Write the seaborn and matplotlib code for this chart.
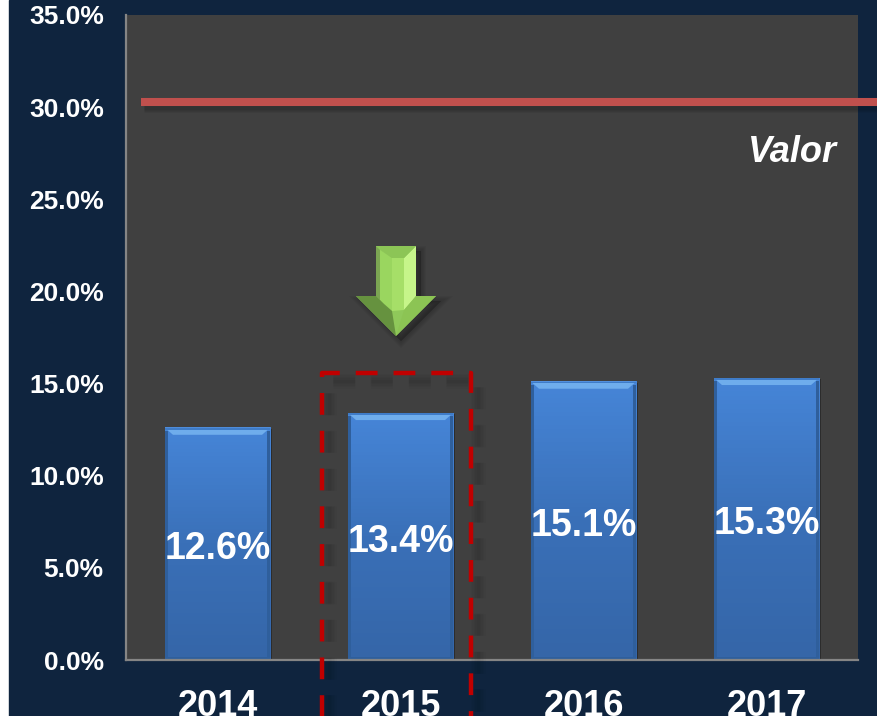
import numpy as np
import matplotlib
matplotlib.use('Agg')
import matplotlib.pyplot as plt
import matplotlib.patheffects as pe
from matplotlib.patches import Polygon, Rectangle
from matplotlib.transforms import Affine2D, blended_transform_factory, ScaledTranslation
import pandas as pd
import seaborn as sns

years = ['2014', '2015', '2016', '2017']
values = [12.6, 13.4, 15.1, 15.3]
value_labels = ['12.6%', '13.4%', '15.1%', '15.3%']
reference_value = 30.3
reference_name = 'Valor'
y_ticks = [0, 5, 10, 15, 20, 25, 30, 35]
y_tick_labels = ['0.0%', '5.0%', '10.0%', '15.0%', '20.0%', '25.0%', '30.0%', '35.0%']

NAVY = '#0f243e'
PLOT_BG = '#404040'
AXIS_GREY = '#858585'
W, H = 877, 716


def soft_line_shadow(dx, dy, width, alpha, steps=5, grow=2.2):
    # a few wide transparent strokes stand in for a blurred shadow
    return [pe.SimpleLineShadow(offset=(dx, dy), alpha=alpha, shadow_color='black', linewidth=width + k * grow)
            for k in range(steps)]


sns.set_theme(style='white')
plt.rcParams['font.family'] = ['Liberation Sans', 'DejaVu Sans']

fig = plt.figure(figsize=(W / 100, H / 100), dpi=100, facecolor='white')
# shapes that sit on top of the chart are placed in reference pixels
px = Affine2D().scale(1 / W, -1 / H).translate(0, 1) + fig.transFigure
fig.patches.append(Rectangle((9, 0), W - 9, H, transform=px, color=NAVY, zorder=-5))

ax = fig.add_axes([126 / W, (H - 660) / H, 732 / W, 645 / H], facecolor=PLOT_BG)

df = pd.DataFrame({'year': years, 'value': values})
sns.barplot(data=df, x='year', y='value', color='#3f78c4', width=0.574, saturation=1, linewidth=0, ax=ax)

ax.set_ylim(0, 35)
ax.set_xlim(-0.5, 3.5)
ax.set_xlabel('')
ax.set_ylabel('')
ax.set_yticks(y_ticks)
ax.set_yticklabels(y_tick_labels, fontsize=19, fontweight='bold', color='white')
ax.tick_params(axis='y', length=0, pad=16)
ax.tick_params(axis='x', length=0, pad=21)
for lab in ax.get_xticklabels():
    lab.set_fontsize(26)
    lab.set_fontweight('bold')
    lab.set_color('white')
for side in ['top', 'right']:
    ax.spines[side].set_visible(False)
for side in ['left', 'bottom']:
    ax.spines[side].set_color(AXIS_GREY)
    ax.spines[side].set_linewidth(1.6)

# gradient and bevel on every bar
grad = np.linspace(0, 1, 64).reshape(-1, 1)
cmap = matplotlib.colors.LinearSegmentedColormap.from_list('bar', ['#4685d8', '#3a70b8', '#3566a8'])
for bar in ax.patches:
    x0, y0, w, h = bar.get_x(), bar.get_y(), bar.get_width(), bar.get_height()
    bar.set_path_effects([pe.SimplePatchShadow(offset=(1.5, -1), alpha=0.3, shadow_rgbFace='black'), pe.Normal()])
    bar.set_zorder(2)
    ax.imshow(grad, extent=(x0, x0 + w, y0, y0 + h), cmap=cmap, aspect='auto', zorder=2.1)
    dx = 4 / 183
    dy = 7 / 18.43
    ax.add_patch(Polygon([(x0, y0 + h), (x0 + w, y0 + h), (x0 + w - 2 * dx, y0 + h - dy), (x0 + 2 * dx, y0 + h - dy)],
                         color='#6fadec', lw=0, zorder=2.2))
    ax.add_patch(Rectangle((x0, y0 + h - dy * 0.25), w, dy * 0.25, color='#3f7cc8', lw=0, zorder=2.3))
    ax.add_patch(Rectangle((x0, y0), dx * 0.75, h - dy * 0.4, color='#2f5f9c', lw=0, zorder=2.2))
    ax.add_patch(Rectangle((x0 + w - dx * 0.75, y0), dx * 0.75, h - dy * 0.4, color='#2f5f9c', lw=0, zorder=2.2))
    ax.add_patch(Rectangle((x0, y0), w, dy * 0.4, color='#2f5f9c', lw=0, zorder=2.2))
ax.set_xlim(-0.5, 3.5)
ax.set_ylim(0, 35)

labels = ax.bar_label(ax.containers[0], labels=value_labels, label_type='center',
                      fontsize=27, fontweight='bold', color='white')
for t in labels:
    t.set_zorder(5)
    t.xyann = (0, -3.6)

# reference line runs past the plot area up to the edge of the picture
line_tf = blended_transform_factory(ax.transAxes, ax.transData)
ax.plot([15 / 732, 751 / 732], [reference_value, reference_value], transform=line_tf, color='#c0504d',
        lw=5.8, solid_capstyle='butt', clip_on=False, zorder=3,
        path_effects=soft_line_shadow(2, -3, 5, 0.05, steps=4, grow=1.4) + [pe.Normal()])
ax.text(837, 153, reference_name, transform=px, fontsize=26, fontweight='bold', fontstyle='italic',
        color='white', ha='right', va='center')

# dashed highlight around 2015
ax.plot([322, 322, 471, 471], [H + 10, 373, 373, H + 10], transform=px, color='#c00000', lw=3.2,
        dashes=(4.9, 3.6), dash_capstyle='butt', clip_on=False, zorder=6,
        path_effects=soft_line_shadow(5, -6, 2, 0.022) + [pe.Normal()])

# green arrow
shaft_l, shaft_r, head_l, head_r, mid = 376, 416, 356, 436, 396
top, neck, tip = 246, 296, 336
arrow_zorder = 6
outline = [(shaft_l, top), (shaft_r, top), (shaft_r, neck), (head_r, neck), (mid, tip), (head_l, neck), (shaft_l, neck)]
for k in range(4):
    ax.add_patch(Polygon([(x + 5, y + 5) for x, y in outline], transform=px, facecolor='black', edgecolor='black',
                         lw=1 + k * 2, alpha=0.05, clip_on=False, zorder=arrow_zorder - 0.5))
arrow_faces = [
    (outline, '#8fc85a'),
    ([(shaft_l, top), (shaft_l + 4, top + 4), (shaft_l + 4, neck + 4), (shaft_l, neck)], '#7ba552'),
    ([(shaft_l + 4, top + 4), (mid - 4, top + 12), (mid - 4, neck + 15), (shaft_l + 4, neck + 4)], '#9ad65f'),
    ([(mid - 4, top + 12), (shaft_r - 12, top + 12), (shaft_r - 12, neck + 14), (mid - 4, neck + 15)], '#a6df68'),
    ([(shaft_r - 12, top + 12), (shaft_r, top), (shaft_r, neck), (shaft_r - 12, neck + 14)], '#c6f58a'),
    ([(shaft_l, top), (shaft_r, top), (shaft_r - 12, top + 12), (mid - 4, top + 12)], '#8cc556'),
    ([(head_l, neck), (shaft_l, neck), (shaft_l + 8, neck + 8), (mid - 4, neck + 15), (mid, tip)], '#66923f'),
    ([(head_r, neck), (shaft_r, neck), (shaft_r - 12, neck + 14), (mid, tip)], '#8cc454'),
]
for pts, c in arrow_faces:
    ax.add_patch(Polygon(pts, transform=px, color=c, lw=0, clip_on=False, zorder=arrow_zorder))

fig.savefig('out.png', dpi=100, facecolor='white')
